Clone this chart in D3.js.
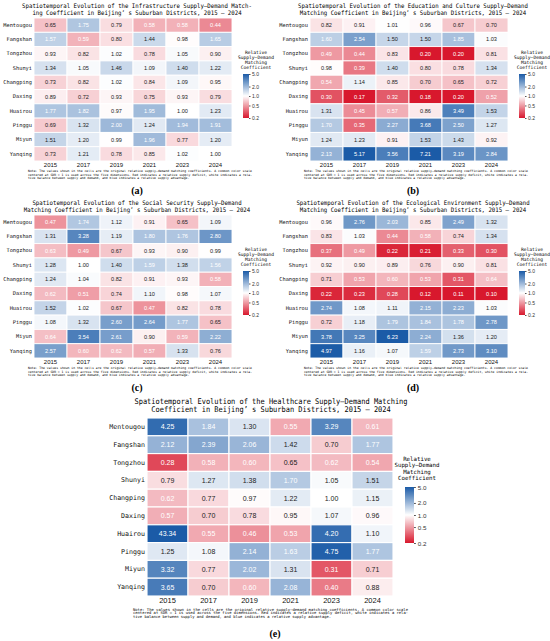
<!DOCTYPE html>
<html>
<head>
<meta charset="utf-8">
<script src="https://cdn.jsdelivr.net/npm/d3@7"></script>
<style>
  body { margin: 0; background: #fff; }
  svg { display: block; }
</style>
</head>
<body>
<svg id="chart"></svg>
<script>
const width = 550;
const height = 641;

const districts = ["Mentougou", "Fangshan", "Tongzhou", "Shunyi", "Changping",
                   "Daxing", "Huairou", "Pinggu", "Miyun", "Yanqing"];
const years = ["2015", "2017", "2019", "2021", "2023", "2024"];
const colorTicks = [0.2, 0.5, 1.0, 2.0, 5.0];

// (a) infrastructure
const infraValues = [
  [0.65, 1.75, 0.79, 0.58, 0.58, 0.44],
  [1.57, 0.59, 0.80, 1.44, 0.98, 1.65],
  [0.93, 0.82, 1.02, 0.78, 1.05, 0.90],
  [1.34, 1.05, 1.46, 1.09, 1.40, 1.22],
  [0.73, 0.82, 1.02, 0.84, 1.09, 0.95],
  [0.89, 0.72, 0.93, 0.75, 0.93, 0.79],
  [1.77, 1.82, 0.97, 1.95, 1.00, 1.23],
  [0.69, 1.32, 2.00, 1.24, 1.94, 1.91],
  [1.51, 1.20, 0.99, 1.96, 0.77, 1.20],
  [0.73, 1.21, 0.78, 0.85, 1.02, 1.00]
];
// (b) education and culture
const eduValues = [
  [0.82, 0.91, 1.01, 0.96, 0.67, 0.70],
  [1.60, 2.54, 1.50, 1.50, 1.85, 1.03],
  [0.49, 0.44, 0.83, 0.20, 0.20, 0.81],
  [0.98, 0.39, 1.40, 0.80, 0.78, 1.34],
  [0.54, 1.14, 0.85, 0.70, 0.65, 0.72],
  [0.30, 0.17, 0.32, 0.18, 0.20, 0.52],
  [1.31, 0.45, 0.57, 0.86, 3.49, 1.53],
  [1.70, 0.35, 2.27, 3.68, 2.50, 1.27],
  [1.24, 1.23, 0.91, 1.53, 1.43, 0.92],
  [2.13, 5.17, 3.56, 7.21, 3.19, 2.84]
];
// (c) social security
const socialValues = [
  [0.47, 1.74, 1.12, 0.91, 0.65, 1.09],
  [1.31, 3.28, 1.19, 1.80, 1.76, 2.80],
  [0.63, 0.49, 0.67, 0.93, 0.90, 0.99],
  [1.28, 1.00, 1.40, 1.59, 1.38, 1.56],
  [1.24, 1.04, 0.82, 0.91, 0.93, 0.58],
  [0.62, 0.51, 0.74, 1.10, 0.98, 1.07],
  [1.52, 1.02, 0.67, 0.47, 0.82, 0.78],
  [1.08, 1.32, 2.60, 2.64, 1.77, 0.65],
  [0.64, 3.54, 2.61, 0.90, 0.59, 2.22],
  [2.57, 0.60, 0.62, 0.57, 1.33, 0.76]
];
// (d) ecological environment
const ecoValues = [
  [0.96, 2.76, 2.03, 0.85, 2.49, 1.32],
  [0.83, 1.03, 0.44, 0.58, 0.74, 1.34],
  [0.37, 0.49, 0.22, 0.21, 0.33, 0.30],
  [0.92, 0.90, 0.89, 0.76, 0.90, 0.81],
  [0.71, 0.53, 0.60, 0.53, 0.31, 0.64],
  [0.22, 0.23, 0.28, 0.12, 0.11, 0.10],
  [2.74, 1.08, 1.11, 2.15, 2.23, 1.03],
  [0.72, 1.18, 1.79, 1.84, 1.78, 2.78],
  [3.78, 3.25, 6.23, 2.24, 1.36, 1.20],
  [4.97, 1.16, 1.07, 1.59, 2.73, 3.10]
];
// (e) healthcare
const healthValues = [
  [4.25, 1.84, 1.30, 0.55, 3.29, 0.61],
  [2.12, 2.39, 2.06, 1.42, 0.70, 1.77],
  [0.28, 0.58, 0.60, 0.65, 0.62, 0.54],
  [0.79, 1.27, 1.38, 1.70, 1.05, 1.51],
  [0.62, 0.77, 0.97, 1.22, 1.00, 1.15],
  [0.57, 0.70, 0.78, 0.95, 1.07, 0.96],
  [43.34, 0.55, 0.46, 0.53, 4.20, 1.10],
  [1.25, 1.08, 2.14, 1.63, 4.75, 1.77],
  [3.32, 0.77, 2.02, 1.31, 0.31, 0.71],
  [3.65, 0.70, 0.60, 2.08, 0.40, 0.88]
];

const noteLines = [
  "Note: The values shown in the cells are the original relative supply\u2013demand matching coefficients. A common color scale",
  "centered at SDR = 1 is used across the five dimensions. Red indicates a relative supply deficit, white indicates a rela-",
  "tive balance between supply and demand, and blue indicates a relative supply advantage."
];
const cbTitle = ["Relative", "Supply\u2014Demand", "Matching", "Coefficient"];

const mono = "'DejaVu Sans Mono', monospace";
const sans = "'Liberation Sans', Arial, sans-serif";

const color = d3.scaleLog()
  .domain([0.2, 1, 5])
  .range(["#d8182d", "#ffffff", "#1b5ba7"])
  .interpolate(d3.interpolateRgb)
  .clamp(true);

const svg = d3.select("#chart")
  .attr("width", width)
  .attr("height", height);
const defs = svg.append("defs");

function drawPanel(p) {
  const g = svg.append("g");
  const s = p.s;   // size factor for text

  // title
  p.title.forEach((t, i) => {
    g.append("text")
      .attr("x", p.tx).attr("y", p.ty + i * p.tdy)
      .attr("text-anchor", "middle")
      .attr("font-family", mono).attr("font-size", 6.2 * s)
      .attr("textLength", t.length * p.tcw).attr("lengthAdjust", "spacingAndGlyphs")
      .text(t);
  });

  const x = d3.scaleBand().domain(years).range([p.x0, p.x1]);
  const y = d3.scaleBand().domain(districts).range([p.y0, p.y1]);

  const cells = [];
  p.values.forEach((row, i) => row.forEach((v, j) => {
    cells.push({ district: districts[i], year: years[j], v: v });
  }));

  g.selectAll("rect.cell").data(cells).join("rect")
    .attr("class", "cell")
    .attr("x", d => x(d.year)).attr("y", d => y(d.district))
    .attr("width", x.bandwidth()).attr("height", y.bandwidth())
    .attr("fill", d => color(d.v))
    .attr("stroke", "#fff").attr("stroke-width", 0.9 * s);

  g.selectAll("text.val").data(cells).join("text")
    .attr("class", "val")
    .attr("x", d => x(d.year) + x.bandwidth() / 2)
    .attr("y", d => y(d.district) + y.bandwidth() / 2)
    .attr("dy", "0.35em")
    .attr("text-anchor", "middle")
    .attr("font-family", sans).attr("font-size", 5.6 * s)
    .attr("fill", d => (d.v < 0.645 || d.v > 1.55) ? "#fff" : "#222")
    .text(d => d.v.toFixed(2));

  // row labels
  const ya = g.append("g")
    .attr("transform", `translate(${p.x0 - 1},0)`)
    .call(d3.axisLeft(y).tickSize(0).tickPadding(1));
  ya.select(".domain").remove();
  ya.selectAll("text").attr("font-family", mono).attr("font-size", 5.3 * s).attr("fill", "#111");

  // year labels
  const xa = g.append("g")
    .attr("transform", `translate(0,${p.y1})`)
    .call(d3.axisBottom(x).tickSize(0).tickPadding(1.5 * s));
  xa.select(".domain").remove();
  xa.selectAll("text").attr("font-family", sans).attr("font-size", 6 * s).attr("fill", "#111");

  // notes
  noteLines.forEach((t, i) => {
    g.append("text")
      .attr("x", p.nx).attr("y", p.ny + i * p.ndy)
      .attr("font-family", mono).attr("font-size", 3.1 * s)
      .attr("textLength", i < 2 ? p.nw : p.nw * 0.72)
      .attr("lengthAdjust", "spacingAndGlyphs")
      .text(t);
  });

  // colorbar
  const cb = d3.scaleLog().domain([0.2, 5]).range([p.cy1, p.cy0]);
  const gid = "grad" + p.label.replace(/\W/g, "");
  const grad = defs.append("linearGradient").attr("id", gid)
    .attr("x1", 0).attr("y1", 1).attr("x2", 0).attr("y2", 0);
  d3.range(0, 1.0001, 0.05).forEach(t => {
    grad.append("stop").attr("offset", t).attr("stop-color", color(0.2 * Math.pow(25, t)));
  });
  g.append("rect")
    .attr("x", p.cx).attr("y", p.cy0)
    .attr("width", p.cw).attr("height", p.cy1 - p.cy0)
    .attr("fill", `url(#${gid})`);
  const ca = g.append("g")
    .attr("transform", `translate(${p.cx + p.cw},0)`)
    .call(d3.axisRight(cb).tickValues(colorTicks).tickFormat(d3.format(".1f")).tickSize(1.5 * s).tickPadding(1.5 * s));
  ca.select(".domain").remove();
  ca.selectAll("line").attr("stroke", "#555");
  ca.selectAll("text").attr("font-family", sans).attr("font-size", 5 * s).attr("fill", "#333");

  cbTitle.forEach((t, i) => {
    g.append("text")
      .attr("x", p.ctx).attr("y", p.cty + i * 5 * s)
      .attr("text-anchor", "middle")
      .attr("font-family", mono).attr("font-size", 4.6 * s)
      .text(t);
  });

  // panel label
  g.append("text")
    .attr("x", p.lx).attr("y", p.ly)
    .attr("text-anchor", "middle")
    .attr("font-family", "'Liberation Serif', 'Times New Roman', serif")
    .attr("font-weight", "bold").attr("font-size", 10)
    .text(p.label);
}

function smallPanel(values, title, label, ox, oy) {
  return {
    values, title, label, s: 1,
    tx: 137 + ox, ty: 8 + oy, tdy: 6.5, tcw: 3.43,
    x0: 34 + ox, x1: 232 + ox, y0: 18 + oy, y1: 161 + oy,
    nx: 28 + ox, ny: 172 + oy, ndy: 3.5, nw: 224,
    cx: 243 + ox, cw: 6, cy0: 74 + oy, cy1: 118 + oy,
    ctx: 256 + ox, cty: 54 + oy,
    lx: 137 + ox, ly: 194 + oy
  };
}

const panels = [
  smallPanel(infraValues,
    ["Spatiotemporal Evolution of the Infrastructure Supply\u2014Demand Match-",
     "ing Coefficient in Beijing\u2019 s Suburban Districts, 2015 \u2013 2024"], "(a)", 0, 0),
  smallPanel(eduValues,
    ["Spatiotemporal Evolution of the Education and Culture Supply\u2014Demand",
     "Matching Coefficient in Beijing\u2019 s Suburban Districts, 2015 \u2013 2024"], "(b)", 276, 0),
  smallPanel(socialValues,
    ["Spatiotemporal Evolution of the Social Security Supply\u2014Demand",
     "Matching Coefficient in Beijing\u2019 s Suburban Districts, 2015 \u2013 2024"], "(c)", 0, 197),
  smallPanel(ecoValues,
    ["Spatiotemporal Evolution of the Ecological Environment Supply\u2014Demand",
     "Matching Coefficient in Beijing\u2019 s Suburban Districts, 2015 \u2013 2024"], "(d)", 276, 197),
  {
    values: healthValues, label: "(e)", s: 1.25,
    title: ["Spatiotemporal Evolution of the Healthcare Supply\u2014Demand Matching",
            "Coefficient in Beijing\u2019 s Suburban Districts, 2015 \u2013 2024"],
    tx: 271, ty: 404, tdy: 8, tcw: 4.2,
    x0: 147, x1: 393, y0: 418, y1: 596,
    nx: 133, ny: 610.5, ndy: 3.8, nw: 275,
    cx: 405, cw: 9, cy0: 487, cy1: 543,
    ctx: 417, cty: 461,
    lx: 275, ly: 637
  }
];

panels.forEach(drawPanel);
</script>
</body>
</html>
